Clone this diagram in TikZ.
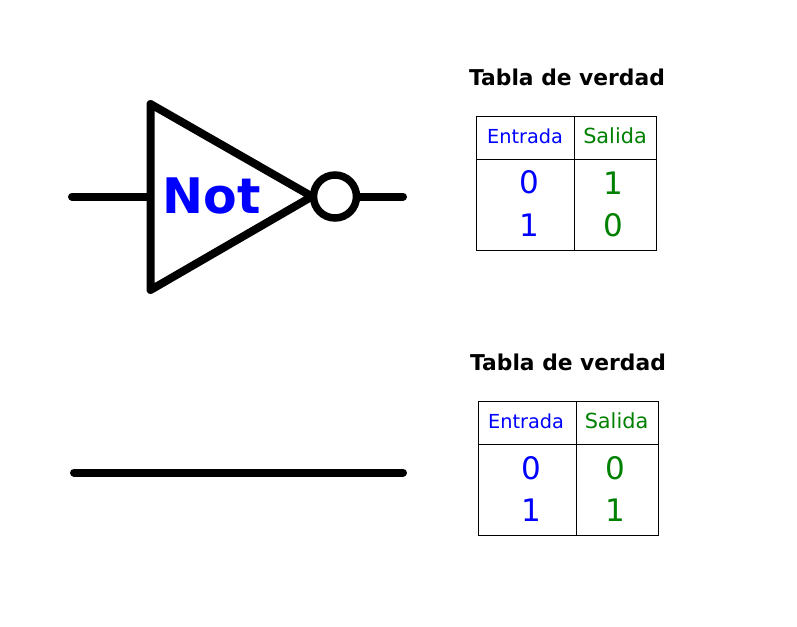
\documentclass[tikz,border=0pt]{standalone}
\usepackage{fontspec}
\setmainfont{DejaVu Sans}
\tikzset{
 wire/.style={line width=8pt,line cap=round,line join=round},
 gridline/.style={line width=1pt},
 headin/.style={text=blue,font=\fontsize{19.3}{22}\selectfont},
 headout/.style={text=green!50!black,font=\fontsize{20.8}{23}\selectfont},
 bitin/.style={text=blue,font=\fontsize{31}{34}\selectfont},
 bitout/.style={text=green!50!black,font=\fontsize{31}{34}\selectfont},
 tabletitle/.style={font=\bfseries\fontsize{21.8}{24}\selectfont},
}
\begin{document}
\begin{tikzpicture}[x=1pt,y=-1pt]
 \useasboundingbox (0,0) rectangle (797,626);
 % gate
 \coordinate (inA) at (72,196.5);
 \coordinate (inB) at (150,196.5);
 \coordinate (outA) at (358,196.5);
 \coordinate (outB) at (403,196.5);
 \draw[wire] (inA) -- (inB);
 \draw[wire] (outA) -- (outB);
 \coordinate (triA) at (150.5,104);
 \coordinate (triB) at (150.5,290);
 \coordinate (triC) at (312,196.5);
 \draw[wire] (triA) -- (triB) -- (triC) -- cycle;
 \node[circle,draw,line width=7.5pt,minimum size=43pt,inner sep=0pt] (bubble) at (335,196.5) {};
 \node[text=blue,font=\bfseries\fontsize{49}{52}\selectfont] (gatename) at (212,195.5) {Not};
 % wire
 \coordinate (lineA) at (74,472.5);
 \coordinate (lineB) at (403,472.5);
 \draw[wire] (lineA) -- (lineB);
 % upper table
 \node[tabletitle] (titleA) at (567,77) {Tabla de verdad};
 \draw[gridline] (476,116) rectangle (656,250);
 \draw[gridline] (476,159) -- (656,159);
 \draw[gridline] (574,116) -- (574,250);
 \node[headin] (inheadA) at (525,136.5) {Entrada};
 \node[headout] (outheadA) at (615,136) {Salida};
 \node[bitin] (inA0) at (529,182) {0};
 \node[bitin] (inA1) at (529,225) {1};
 \node[bitout] (outA0) at (613,183) {1};
 \node[bitout] (outA1) at (613,225) {0};
 % lower table
 \node[tabletitle] (titleB) at (568,362) {Tabla de verdad};
 \draw[gridline] (478,401) rectangle (658,535.5);
 \draw[gridline] (478,444) -- (658,444);
 \draw[gridline] (576,401) -- (576,535.5);
 \node[headin] (inheadB) at (526,421.5) {Entrada};
 \node[headout] (outheadB) at (616.5,421) {Salida};
 \node[bitin] (inB0) at (531,468) {0};
 \node[bitin] (inB1) at (531,510) {1};
 \node[bitout] (outB0) at (615,468) {0};
 \node[bitout] (outB1) at (615,510) {1};
\end{tikzpicture}
\end{document}
